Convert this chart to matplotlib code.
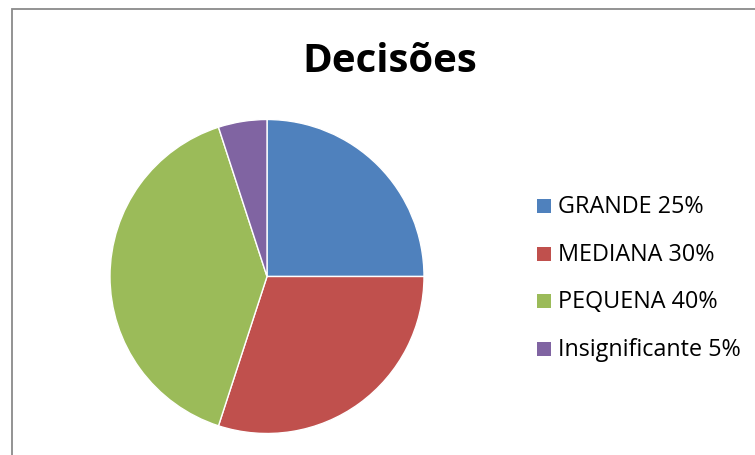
import matplotlib.pyplot as plt
from matplotlib.patches import Rectangle

categories = ["GRANDE 25%", "MEDIANA 30%", "PEQUENA 40%", "Insignificante 5%"]
values = [25, 30, 40, 5]
colors = ["#4F81BD", "#C0504D", "#9BBB59", "#8064A2"]
title = "Decisões"

W, H = 755, 456
plt.rcParams['font.family'] = ['Open Sans', 'DejaVu Sans']

fig = plt.figure(figsize=(W / 100, H / 100), dpi=100)
fig.patch.set_facecolor('white')

# outer chart border (runs off the right and bottom edges)
fig.add_artist(Rectangle((11.5 / W, -0.1), 1.2, 1.1 - 9.5 / H,
                         transform=fig.transFigure, fill=False,
                         edgecolor='#8a8a8a', linewidth=1.3))

cx, cy, r = 267, 456 - 277.5, 157
ax = fig.add_axes([(cx - r) / W, (cy - r) / H, 2 * r / W, 2 * r / H])
ax.pie(values, colors=colors, startangle=90, counterclock=False,
       wedgeprops={'edgecolor': 'white', 'linewidth': 1})
ax.set_xlim(-1, 1)
ax.set_ylim(-1, 1)
ax.set_aspect('equal')
ax.axis('off')

fig.text(390 / W, 1 - 62 / H, title, ha='center', va='center',
         fontsize=29, fontweight='bold')

# legend
row_y = [207, 255, 302, 350]
for lab, col, y in zip(categories, colors, row_y):
    fig.add_artist(Rectangle((537 / W, 1 - (y + 7) / H), 14 / W, 14 / H,
                             transform=fig.transFigure, facecolor=col,
                             edgecolor='none'))
    fig.text(558 / W, 1 - y / H, lab, ha='left', va='center', fontsize=16.8)

fig.savefig('out.png', dpi=100)
